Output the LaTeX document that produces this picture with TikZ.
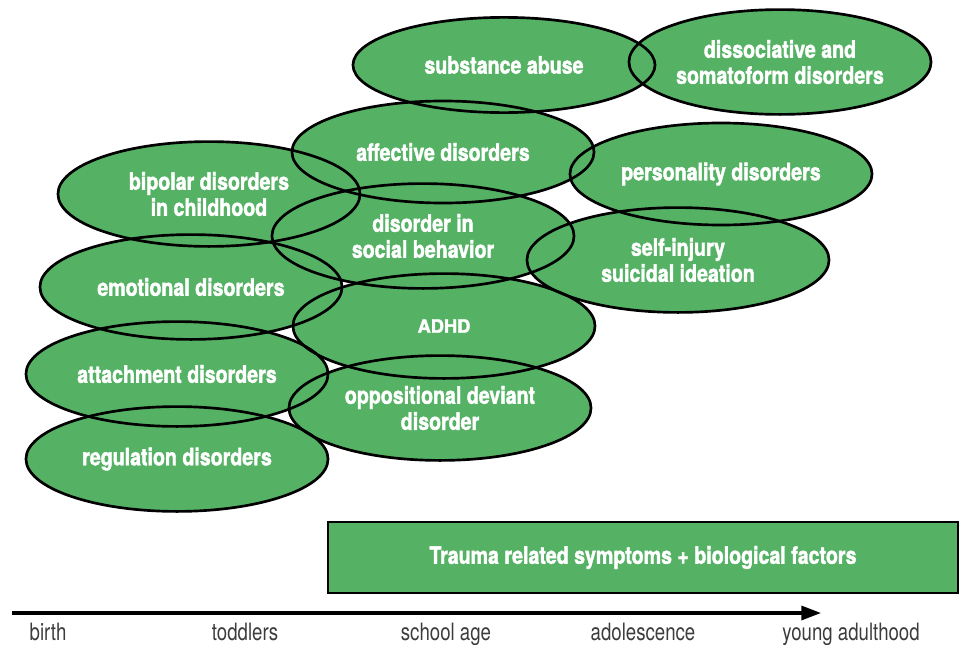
\documentclass[tikz,border=0pt]{standalone}
\usepackage{fontspec}
\setmainfont[FakeStretch=0.82, BoldFeatures={FakeBold=1.6}]{TeX Gyre Heros}
\newfontfamily\anchofont[BoldFeatures={FakeBold=1.6}]{TeX Gyre Heros}
\newfontfamily\etapafont[FakeStretch=0.78]{TeX Gyre Heros}
\usetikzlibrary{shapes.geometric,arrows.meta,backgrounds,calc}
\definecolor{verde}{RGB}{85,178,101}
\definecolor{grisosc}{RGB}{60,60,60}

\tikzset{
  trastorno/.style={ellipse, draw=black, line width=1.9pt, outer sep=0pt,
    minimum width=7.55cm, minimum height=2.62cm, inner sep=0pt, align=center,
    text=white, font=\fontsize{17}{18.5}\selectfont\bfseries},
  etapa/.style={text=grisosc, anchor=base, font=\etapafont\fontsize{17}{18}\selectfont}
}

\begin{document}
\begin{tikzpicture}[x=0.025cm,y=-0.025cm]
%marco de la figura
\useasboundingbox (0,0) rectangle (962,645);

%trastornos (elipses)
\node[trastorno, minimum height=2.38cm] (subst) at (504,65) {substance abuse};
\node[trastorno] (dissoc) at (780,62) {dissociative and\\somatoform disorders};
\node[trastorno, minimum height=2.55cm] (affect) at (443,152) {affective disorders};
\node[trastorno, minimum height=2.55cm] (person) at (721,174) {personality disorders};
\node[trastorno] (bipolar) at (209,194) {bipolar disorders\\in childhood};
\node[trastorno] (social) at (423,236) {disorder in\\social behavior};
\node[trastorno] (selfinj) at (678,260) {self-injury\\suicidal ideation};
\node[trastorno] (emotion) at (191,287) {emotional disorders};
\node[trastorno] (adhd) at (444,326) {\anchofont\fontsize{13}{14}\selectfont\bfseries ADHD};
\node[trastorno] (attach) at (177,374) {attachment disorders};
\node[trastorno] (odd) at (440,408) {oppositional deviant\\disorder};
\node[trastorno] (regul) at (177,459) {regulation disorders};

%relleno verde detras de todos los bordes
\begin{pgfonlayer}{background}
\foreach \e in {subst,dissoc,affect,person,bipolar,social,selfinj,emotion,adhd,attach,odd,regul}
  \path let \p1=(\e.east), \p2=(\e.north), \p3=(\e.center) in
    [fill=verde] (\p3) ellipse [x radius=\x1-\x3, y radius=\y2-\y3];
\end{pgfonlayer}

%barra de trauma
\node[draw=black, line width=1.9pt, fill=verde, minimum width=15.75cm, minimum height=1.78cm,
  text=white, font=\fontsize{17}{18.5}\selectfont\bfseries] (trauma) at (643,557.5)
  {Trauma related symptoms + biological factors};

%eje del tiempo
\coordinate (inicio) at (12,613);
\coordinate (fin) at (821,613);
\draw[line width=2.2pt, -{Triangle[length=14pt,width=10pt]}] (inicio) -- (fin);

%etapas
\node[etapa] (birth) at (48,640) {birth};
\node[etapa] (toddlers) at (245,640) {toddlers};
\node[etapa] (school) at (446,640) {school age};
\node[etapa] (adolesc) at (643,640) {adolescence};
\node[etapa] (young) at (851,640) {young adulthood};
\end{tikzpicture}
\end{document}
